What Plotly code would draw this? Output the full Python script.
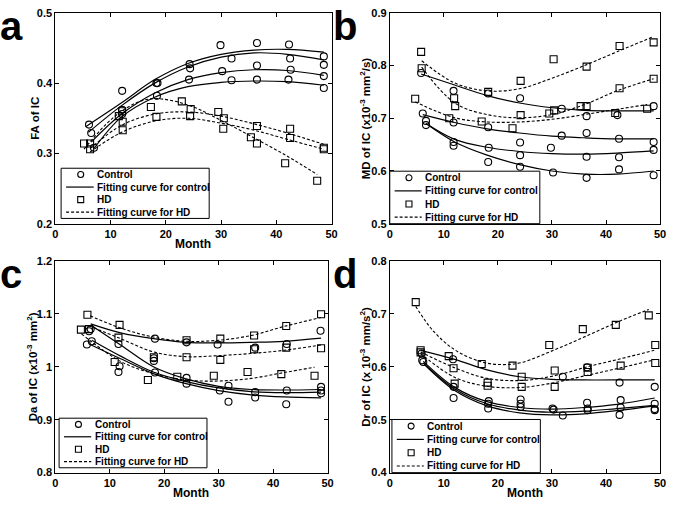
import plotly.graph_objects as go
from plotly.subplots import make_subplots

FONT = "Liberation Sans, Arial, sans-serif"

MONTH_TICKS = [0, 10, 20, 30, 40, 50]

# ---- (a) FA of IC ----
A_CTRL_X = [6.1, 6.5, 7.0, 12.1, 12.1, 12.1, 18.3, 18.5, 18.4, 24.3, 24.4, 24.2, 29.9, 30.2,
            31.9, 31.9, 36.5, 36.5, 36.5, 42.3, 42.5, 42.6, 42.2, 48.6, 48.6, 48.6, 48.6]
A_CTRL_Y = [0.341, 0.329, 0.308, 0.389, 0.362, 0.356, 0.400, 0.400, 0.382, 0.427, 0.421, 0.405,
            0.454, 0.417, 0.435, 0.404, 0.457, 0.425, 0.405, 0.455, 0.435, 0.419, 0.405, 0.438,
            0.426, 0.410, 0.393]
A_HD_X = [5.2, 6.3, 6.3, 11.5, 12.1, 12.2, 12.2, 17.3, 18.3, 22.9, 24.5, 24.4, 29.5, 30.5, 30.4,
          35.4, 36.5, 36.5, 41.6, 42.5, 42.5, 47.4, 48.6, 48.6]
A_HD_Y = [0.314, 0.314, 0.306, 0.353, 0.360, 0.345, 0.333, 0.366, 0.352, 0.374, 0.363, 0.353,
          0.359, 0.350, 0.335, 0.323, 0.339, 0.314, 0.286, 0.335, 0.322, 0.261, 0.308, 0.306]
A_CTRL_FIT_X = [[5.5, 12, 18, 24, 30, 36, 42, 48.6], [6, 12, 18, 24, 30, 36, 42, 48.6],
                [6.5, 12, 18, 24, 30, 36, 42, 48.6], [7, 12, 18, 24, 30, 36, 42, 48.6]]
A_CTRL_FIT_Y = [[0.338, 0.372, 0.405, 0.428, 0.441, 0.447, 0.448, 0.444],
                [0.330, 0.368, 0.400, 0.423, 0.437, 0.443, 0.441, 0.433],
                [0.316, 0.356, 0.386, 0.405, 0.415, 0.419, 0.418, 0.411],
                [0.307, 0.352, 0.380, 0.395, 0.401, 0.403, 0.402, 0.397]]
A_HD_FIT_X = [[5.2, 9, 12, 15, 18, 24, 30, 36, 42, 47.4], [6.3, 12, 18, 24, 30, 36, 42, 48.6],
              [6.3, 12, 18, 24, 30, 36, 42, 48.6]]
A_HD_FIT_Y = [[0.306, 0.340, 0.360, 0.373, 0.378, 0.369, 0.347, 0.322, 0.296, 0.270],
              [0.307, 0.340, 0.356, 0.359, 0.353, 0.342, 0.329, 0.313],
              [0.302, 0.330, 0.346, 0.350, 0.343, 0.333, 0.320, 0.306]]
A_YTICKS = [0.2, 0.3, 0.4, 0.5]
A_YTEXT = ["0.2", "0.3", "0.4", "0.5"]

# ---- (b) MD of IC ----
B_CTRL_X = [5.8, 6.1, 6.7, 6.7, 11.8, 11.8, 11.8, 11.8, 18.2, 18.2, 18.3, 18.2, 24.1, 24.1, 24.1,
            24.1, 31.8, 31.8, 29.8, 30.2, 36.4, 36.4, 36.4, 36.4, 42.1, 42.4, 42.4, 42.4, 48.8,
            48.8, 48.8, 48.8]
B_CTRL_Y = [0.786, 0.709, 0.695, 0.687, 0.752, 0.692, 0.655, 0.648, 0.747, 0.683, 0.644, 0.617,
            0.738, 0.654, 0.630, 0.608, 0.718, 0.667, 0.644, 0.597, 0.704, 0.672, 0.627, 0.587,
            0.706, 0.661, 0.626, 0.603, 0.723, 0.655, 0.640, 0.592]
B_HD_X = [5.8, 5.9, 4.7, 11.9, 12.1, 11.0, 17.0, 18.2, 22.7, 24.2, 24.2, 29.5, 30.3, 30.4, 35.3,
          36.4, 36.4, 41.7, 42.5, 42.5, 47.6, 48.8, 48.8]
B_HD_Y = [0.826, 0.795, 0.737, 0.738, 0.723, 0.700, 0.694, 0.750, 0.681, 0.771, 0.706, 0.709,
          0.812, 0.715, 0.723, 0.798, 0.723, 0.710, 0.837, 0.757, 0.718, 0.844, 0.775]
B_CTRL_FIT_X = [[5.8, 12, 18, 24, 30, 36, 42, 48.8], [6.1, 12, 18, 24, 30, 36, 42, 48.8],
                [6.7, 12, 18, 24, 30, 36, 42, 48.8], [6.7, 12, 18, 24, 30, 36, 42, 48.8]]
B_CTRL_FIT_Y = [[0.784, 0.763, 0.743, 0.729, 0.720, 0.715, 0.714, 0.714],
                [0.707, 0.692, 0.680, 0.672, 0.666, 0.663, 0.661, 0.661],
                [0.690, 0.660, 0.645, 0.637, 0.633, 0.632, 0.634, 0.638],
                [0.690, 0.655, 0.630, 0.612, 0.600, 0.594, 0.594, 0.600]]
B_HD_FIT_X = [[5.9, 12, 18, 24, 30, 36, 42, 48.8], [5.9, 12, 18, 24, 30, 36, 42, 48.8],
              [4.7, 12, 18, 24, 30, 36, 42, 47.6]]
B_HD_FIT_Y = [[0.809, 0.767, 0.752, 0.756, 0.776, 0.800, 0.826, 0.855],
              [0.797, 0.729, 0.707, 0.701, 0.707, 0.726, 0.752, 0.775],
              [0.731, 0.701, 0.693, 0.693, 0.698, 0.707, 0.717, 0.726]]
B_YTICKS = [0.5, 0.6, 0.7, 0.8, 0.9]
B_YTEXT = ["0.5", "0.6", "0.7", "0.8", "0.9"]

# ---- (c) Da of IC ----
C_CTRL_X = [5.8, 6.2, 6.5, 6.7, 11.6, 11.8, 11.6, 18.3, 18.1, 18.1, 18.3, 24.1, 24.1, 24.1, 29.8,
            30.2, 31.8, 31.8, 36.7, 36.7, 36.7, 42.5, 42.5, 42.4, 48.7, 48.8, 48.8, 48.8]
C_CTRL_Y = [1.042, 1.067, 1.071, 1.048, 1.043, 1.001, 0.990, 1.053, 1.016, 1.011, 0.989, 1.046,
            0.979, 0.968, 1.042, 0.955, 0.964, 0.934, 1.036, 0.952, 0.942, 1.043, 0.955, 0.929,
            1.068, 0.962, 0.955, 0.950]
C_HD_X = [4.7, 5.9, 6.2, 11.8, 11.6, 10.9, 17.0, 18.1, 22.4, 24.1, 24.1, 29.1, 30.3, 30.3, 35.3,
          36.5, 36.5, 41.5, 42.4, 42.4, 47.6, 48.8, 48.8]
C_HD_Y = [1.070, 1.098, 1.071, 1.079, 1.055, 1.009, 0.975, 1.018, 0.981, 1.050, 1.018, 0.983,
          1.053, 1.013, 0.990, 1.059, 1.033, 0.986, 1.077, 1.036, 0.983, 1.099, 1.035]
C_CTRL_FIT_X = [[6.5, 12, 18, 24, 30, 36, 42, 48.8], [6.5, 12, 18, 24, 30, 36, 42, 48.8],
                [6.7, 12, 18, 24, 30, 36, 42, 48.8], [6.2, 12, 18, 24, 30, 36, 42, 48.8]]
C_CTRL_FIT_Y = [[1.081, 1.064, 1.053, 1.046, 1.045, 1.046, 1.048, 1.054],
                [1.079, 1.041, 1.000, 0.977, 0.963, 0.957, 0.956, 0.957],
                [1.050, 1.020, 0.990, 0.972, 0.960, 0.953, 0.951, 0.952],
                [1.043, 1.015, 0.987, 0.968, 0.955, 0.947, 0.943, 0.941]]
C_HD_FIT_X = [[6.4, 12, 18, 24, 30, 36, 42, 48.8], [6.2, 12, 18, 24, 30, 36, 42, 48.8],
              [4.8, 12, 18, 24, 30, 36, 42, 47.6]]
C_HD_FIT_Y = [[1.096, 1.073, 1.056, 1.048, 1.050, 1.059, 1.076, 1.093],
              [1.077, 1.053, 1.028, 1.019, 1.021, 1.025, 1.031, 1.041],
              [1.062, 1.010, 0.987, 0.975, 0.973, 0.978, 0.989, 0.999]]
C_YTICKS = [0.8, 0.9, 1.0, 1.1, 1.2]
C_YTEXT = ["0.8", "0.9", "1", "1.1", "1.2"]

# ---- (d) Dr of IC ----
D_CTRL_X = [5.9, 6.2, 6.0, 11.7, 11.8, 11.8, 18.2, 18.2, 18.3, 24.2, 24.2, 24.2, 30.1, 30.3, 32.0,
            32.0, 36.5, 36.5, 36.6, 36.6, 42.5, 42.7, 42.7, 42.5, 49.0, 49.0, 49.0, 49.0]
D_CTRL_Y = [0.625, 0.609, 0.612, 0.614, 0.562, 0.541, 0.521, 0.530, 0.535, 0.538, 0.530, 0.524,
            0.521, 0.519, 0.581, 0.508, 0.599, 0.532, 0.521, 0.518, 0.570, 0.537, 0.523, 0.509,
            0.562, 0.530, 0.520, 0.518]
D_HD_X = [4.8, 5.7, 5.7, 10.9, 11.8, 12.0, 17.0, 18.1, 18.1, 22.7, 24.4, 24.4, 29.5, 30.5, 30.5,
          35.7, 36.6, 36.6, 41.8, 42.7, 47.9, 49.1, 49.1]
D_HD_Y = [0.722, 0.631, 0.627, 0.620, 0.597, 0.568, 0.605, 0.570, 0.564, 0.602, 0.581, 0.562,
          0.641, 0.593, 0.562, 0.671, 0.598, 0.590, 0.679, 0.602, 0.697, 0.641, 0.607]
D_CTRL_FIT_X = [[5.7, 12, 18, 24, 30, 36, 42, 49], [6.2, 12, 18, 24, 30, 36, 42, 49],
                [6.2, 12, 18, 24, 30, 36, 42, 49], [6.4, 12, 18, 24, 30, 36, 42, 49]]
D_CTRL_FIT_Y = [[0.631, 0.614, 0.594, 0.581, 0.576, 0.575, 0.575, 0.575],
                [0.610, 0.561, 0.534, 0.523, 0.520, 0.523, 0.529, 0.541],
                [0.607, 0.558, 0.530, 0.518, 0.514, 0.516, 0.521, 0.527],
                [0.604, 0.555, 0.526, 0.513, 0.509, 0.511, 0.517, 0.526]]
D_HD_FIT_X = [[4.8, 8, 12, 17, 21, 24.4, 30.5, 36.6, 42.7, 47.9],
              [5.7, 12, 18, 24.4, 30.5, 36.6, 42.7, 48.9],
              [5.7, 12, 18, 24.4, 30.5, 36.6, 42.7, 48.9]]
D_HD_FIT_Y = [[0.714, 0.668, 0.632, 0.609, 0.604, 0.608, 0.632, 0.659, 0.687, 0.708],
              [0.628, 0.598, 0.578, 0.574, 0.583, 0.600, 0.615, 0.631],
              [0.625, 0.580, 0.563, 0.561, 0.570, 0.584, 0.598, 0.613]]
D_YTICKS = [0.4, 0.5, 0.6, 0.7, 0.8]
D_YTEXT = ["0.4", "0.5", "0.6", "0.7", "0.8"]

LEGEND_LABELS = ["Control", "Fitting curve for control", "HD", "Fitting curve for HD"]

W, H = 675, 505
# plot areas in pixels (x0, x1, ytop, ybottom)
BOXES = [(53, 333, 7, 223), (392, 666, 7, 223), (53, 329, 261, 478), (392, 666, 261, 478)]

panels = [
    dict(letter="a", ytitle="FA of IC", xtitle="Month",
         cx=A_CTRL_X, cy=A_CTRL_Y, hx=A_HD_X, hy=A_HD_Y,
         cfx=A_CTRL_FIT_X, cfy=A_CTRL_FIT_Y, hfx=A_HD_FIT_X, hfy=A_HD_FIT_Y,
         yt=A_YTICKS, ytt=A_YTEXT, ytx=33, leg=(0.021, 0.557, 0.025, 0.263)),
    dict(letter="b", ytitle="MD of IC (x10<sup>-3</sup> mm<sup>2</sup>/s)", xtitle=None,
         cx=B_CTRL_X, cy=B_CTRL_Y, hx=B_HD_X, hy=B_HD_Y,
         cfx=B_CTRL_FIT_X, cfy=B_CTRL_FIT_Y, hfx=B_HD_FIT_X, hfy=B_HD_FIT_Y,
         yt=B_YTICKS, ytt=B_YTEXT, ytx=367, leg=(0.0, 0.555, 0.0, 0.249)),
    dict(letter="c", ytitle="Da of IC (x10<sup>-3</sup> mm<sup>2</sup>)", xtitle="Month",
         cx=C_CTRL_X, cy=C_CTRL_Y, hx=C_HD_X, hy=C_HD_Y,
         cfx=C_CTRL_FIT_X, cfy=C_CTRL_FIT_Y, hfx=C_HD_FIT_X, hfy=C_HD_FIT_Y,
         yt=C_YTICKS, ytt=C_YTEXT, ytx=29, leg=(0.014, 0.557, 0.023, 0.257)),
    dict(letter="d", ytitle="Dr of IC (x 10<sup>-3</sup> mm/s<sup>2</sup>)", xtitle="Month",
         cx=D_CTRL_X, cy=D_CTRL_Y, hx=D_HD_X, hy=D_HD_Y,
         cfx=D_CTRL_FIT_X, cfy=D_CTRL_FIT_Y, hfx=D_HD_FIT_X, hfy=D_HD_FIT_Y,
         yt=D_YTICKS, ytt=D_YTEXT, ytx=367, leg=(0.008, 0.557, 0.0, 0.251)),
]

fig = make_subplots(rows=2, cols=2)

shapes, annos = [], []
for i, p in enumerate(panels):
    r, c = i // 2 + 1, i % 2 + 1
    mk = dict(color="black", width=1.1)
    fig.add_scatter(x=p["cx"], y=p["cy"], mode="markers",
                    marker=dict(symbol="circle-open", size=7, color="black", line=mk),
                    showlegend=False, row=r, col=c)
    fig.add_scatter(x=p["hx"], y=p["hy"], mode="markers",
                    marker=dict(symbol="square-open", size=7, color="black", line=mk),
                    showlegend=False, row=r, col=c)
    for fx, fy in zip(p["cfx"], p["cfy"]):
        fig.add_scatter(x=fx, y=fy, mode="lines", line=dict(color="black", width=1.2, shape="spline"),
                        showlegend=False, row=r, col=c)
    for fx, fy in zip(p["hfx"], p["hfy"]):
        fig.add_scatter(x=fx, y=fy, mode="lines",
                        line=dict(color="black", width=1.1, shape="spline", dash="3px,2px"),
                        showlegend=False, row=r, col=c)

    x0, x1, yt, yb = BOXES[i]
    sfx = "" if i == 0 else str(i + 1)
    fig.layout["xaxis" + sfx].domain = [x0 / W, x1 / W]
    fig.layout["yaxis" + sfx].domain = [1 - yb / H, 1 - yt / H]
    fig.layout["yaxis" + sfx].range = [p["yt"][0], p["yt"][-1]]
    fig.layout["yaxis" + sfx].tickvals = p["yt"]
    fig.layout["yaxis" + sfx].ticktext = p["ytt"]

    # panel letter
    annos.append(dict(text="<b>%s</b>" % p["letter"], xref="paper", yref="paper",
                      x=(-5 if c == 1 else 332) / W, y=1 - (yt - 11) / H,
                      xanchor="left", yanchor="top", showarrow=False,
                      font=dict(size=40, family=FONT, color="black")))
    # y title
    annos.append(dict(text="<b>%s</b>" % p["ytitle"], xref="paper", yref="paper",
                      x=p["ytx"] / W, y=1 - (yt + yb) / 2 / H, textangle=-90,
                      xanchor="center", yanchor="middle", showarrow=False,
                      font=dict(size=11.5, family=FONT, color="black")))
    if p["xtitle"]:
        annos.append(dict(text="<b>%s</b>" % p["xtitle"], xref="paper", yref="paper",
                          x=(x0 + x1) / 2 / W, y=1 - (yb + 21) / H,
                          xanchor="center", yanchor="middle", showarrow=False,
                          font=dict(size=12, family=FONT, color="black")))

    # legend box drawn in axis-domain coordinates
    xd, yd = "x%s domain" % sfx, "y%s domain" % sfx
    lx0, lx1, ly0, ly1 = p["leg"]
    shapes.append(dict(type="rect", xref=xd, yref=yd, x0=lx0, x1=lx1, y0=ly0, y1=ly1,
                       line=dict(color="black", width=1), fillcolor="white", layer="above"))
    step = (ly1 - ly0) / 4
    sym_x = lx0 + 0.071
    for k, lab in enumerate(LEGEND_LABELS):
        ry = ly1 - (k + 0.5) * step
        if k in (0, 2):
            shapes.append(dict(type="circle" if k == 0 else "rect", xref=xd, yref=yd,
                               xsizemode="pixel", ysizemode="pixel", xanchor=sym_x, yanchor=ry,
                               x0=-3, x1=3, y0=-3, y1=3,
                               line=dict(color="black", width=1.1), layer="above"))
        else:
            shapes.append(dict(type="line", xref=xd, yref=yd, x0=lx0 + 0.018, x1=lx0 + 0.118,
                               y0=ry, y1=ry, layer="above",
                               line=dict(color="black", width=1.2,
                                         dash="solid" if k == 1 else "3px,2px")))
        annos.append(dict(text="<b>%s</b>" % lab, xref=xd, yref=yd, x=lx0 + 0.124, y=ry,
                          xanchor="left", yanchor="middle", showarrow=False,
                          font=dict(size=10, family=FONT, color="black")))

axis_style = dict(showline=True, linecolor="black", linewidth=1, mirror="allticks",
                  ticks="inside", ticklen=4, tickcolor="black", showgrid=False, zeroline=False,
                  tickfont=dict(size=11, family=FONT, color="black", weight="bold"))
fig.update_xaxes(range=[0, 50], tickvals=MONTH_TICKS, **axis_style)
fig.update_yaxes(**axis_style)

fig.update_layout(
    width=W, height=H, margin=dict(l=0, r=0, t=0, b=0),
    plot_bgcolor="white", paper_bgcolor="white",
    font=dict(family=FONT, color="black"),
    shapes=shapes, annotations=annos,
)

# pin the figure to the page corner so the page margin does not shift it
fig.write_html(
    "out.html",
    config={"displayModeBar": False},
    post_script=("document.documentElement.style.margin='0';"
                 "document.body.style.margin='0';document.body.style.overflow='hidden';"
                 "var d=document.getElementById('{plot_id}');"
                 "d.style.position='fixed';d.style.left='0px';d.style.top='0px';"),
)
